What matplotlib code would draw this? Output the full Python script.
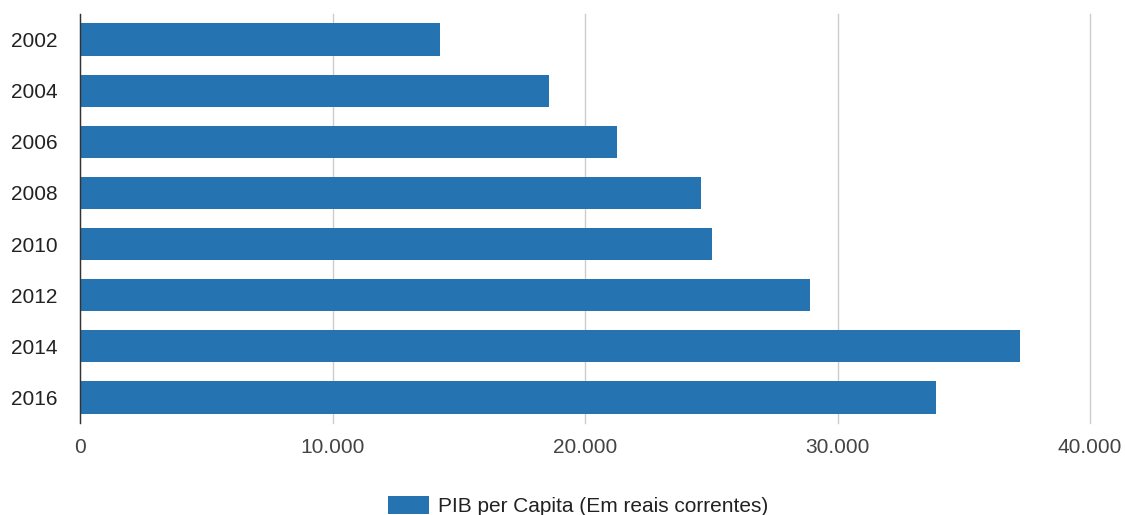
import numpy as np
import matplotlib.pyplot as plt
from matplotlib.patches import Patch

plt.rcParams["font.family"] = ["Liberation Sans", "DejaVu Sans"]

years = ["2002", "2004", "2006", "2008", "2010", "2012", "2014", "2016"]
pib = [14250, 18570, 21270, 24600, 25040, 28930, 37220, 33890]
xticks = [0, 10000, 20000, 30000, 40000]
xtick_labels = ["0", "10.000", "20.000", "30.000", "40.000"]

bar_color = "#2574b1"

fig = plt.figure(figsize=(11.25, 5.15), dpi=100)
ax = fig.add_axes([80/1125, 1 - 423/515, 1010/1125, 409/515])

y = np.arange(len(years))
ax.barh(y, pib, height=0.63, color=bar_color, zorder=2)

ax.set_ylim(len(years) - 0.5, -0.5)
ax.set_xlim(0, 40000)
ax.set_yticks(y)
ax.set_yticklabels(years, fontsize=15, color="#222222")
ax.set_xticks(xticks)
ax.set_xticklabels(xtick_labels, fontsize=15, color="#444444")
ax.tick_params(axis="both", length=0)
ax.tick_params(axis="x", pad=11)
ax.tick_params(axis="y", pad=16)

ax.grid(axis="x", color="#cccccc", linewidth=1, zorder=0)
for gl in ax.get_xgridlines():
    gl.set_clip_on(False)
for side in ["top", "right", "bottom"]:
    ax.spines[side].set_visible(False)
ax.spines["left"].set_color("#333333")
ax.spines["left"].set_linewidth(1)
ax.spines["left"].set_zorder(3)

handles = [Patch(facecolor=bar_color, label="PIB per Capita (Em reais correntes)")]
fig.legend(handles=handles, loc="center", bbox_to_anchor=(578/1125, 1 - 506/515),
           frameon=False, fontsize=15, handlelength=1.95, handleheight=0.95,
           handletextpad=0.45, labelcolor="#222222")

fig.savefig("out.png", dpi=100)
